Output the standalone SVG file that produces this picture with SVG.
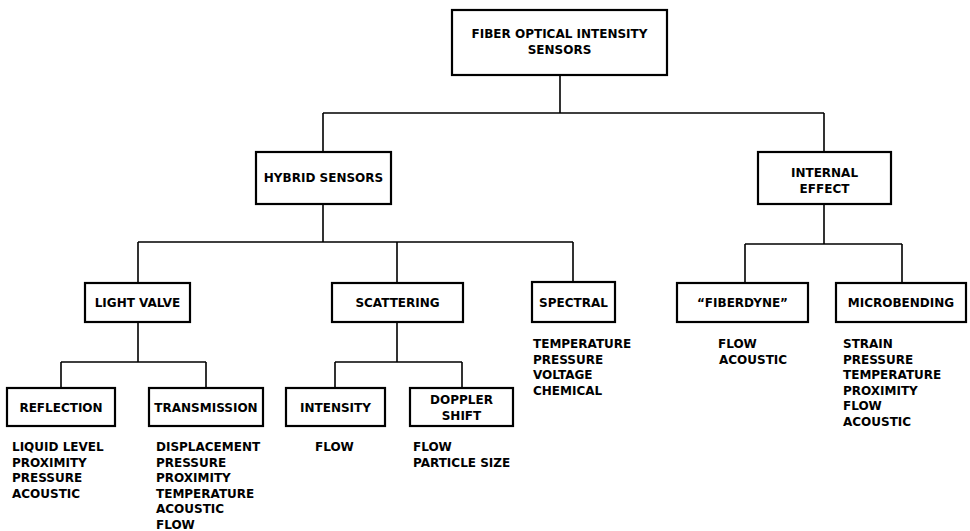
<svg xmlns="http://www.w3.org/2000/svg" width="970" height="531" viewBox="0 0 970 531">
<style>
.box{fill:#fff;stroke:#000;stroke-width:2.2}
.c{fill:none;stroke:#000;stroke-width:1.6}
text{font-family:"DejaVu Sans","Liberation Sans",sans-serif;font-weight:bold;font-size:12px;fill:#000}
.m{text-anchor:middle}
</style>
<rect width="970" height="531" fill="#fff"/>
<g id="connectors">
<path class="c" d="M560 75V113M323 113H824M323 113V152M824 113V152"/>
<path class="c" d="M323 204V242M138 242H573M138 242V283M397 242V283M573 242V282"/>
<path class="c" d="M824 204V244M745 244H902M745 244V283M902 244V283"/>
<path class="c" d="M138 322V362M61 362H206M61 362V388M206 362V388"/>
<path class="c" d="M397 322V362M335 362H462M335 362V388M462 362V388"/>
</g>
<g id="root"><rect class="box" x="452" y="10" width="215" height="65"/><text class="m" x="559.5" y="38">FIBER OPTICAL INTENSITY</text><text class="m" x="559.5" y="54">SENSORS</text></g>
<g id="hybrid"><rect class="box" x="256" y="152" width="135" height="52"/><text class="m" x="323.5" y="182">HYBRID SENSORS</text></g>
<g id="internal"><rect class="box" x="758" y="152" width="133" height="52"/><text class="m" x="824.5" y="177">INTERNAL</text><text class="m" x="824.5" y="193">EFFECT</text></g>
<g id="lightvalve"><rect class="box" x="85" y="283" width="105" height="39"/><text class="m" x="137.5" y="307">LIGHT VALVE</text></g>
<g id="scattering"><rect class="box" x="332" y="283" width="131" height="39"/><text class="m" x="397.5" y="307">SCATTERING</text></g>
<g id="spectral"><rect class="box" x="532" y="282" width="83" height="40"/><text class="m" x="573.5" y="307">SPECTRAL</text>
<text x="533" y="348">TEMPERATURE</text><text x="533" y="363.5">PRESSURE</text><text x="533" y="379">VOLTAGE</text><text x="533" y="394.5">CHEMICAL</text></g>
<g id="fiberdyne"><rect class="box" x="677" y="283" width="131" height="39"/><text class="m" x="742.5" y="307">“FIBERDYNE”</text>
<text x="718" y="348">FLOW</text><text x="719" y="363.5">ACOUSTIC</text></g>
<g id="microbending"><rect class="box" x="836" y="283" width="130" height="39"/><text class="m" x="901" y="307">MICROBENDING</text>
<text x="843" y="348">STRAIN</text><text x="843" y="363.5">PRESSURE</text><text x="843" y="379">TEMPERATURE</text><text x="843" y="394.5">PROXIMITY</text><text x="843" y="410">FLOW</text><text x="843" y="425.5">ACOUSTIC</text></g>
<g id="reflection"><rect class="box" x="7" y="388" width="108" height="38"/><text class="m" x="61" y="412">REFLECTION</text>
<text x="12" y="451">LIQUID LEVEL</text><text x="12" y="466.5">PROXIMITY</text><text x="12" y="482">PRESSURE</text><text x="12" y="497.5">ACOUSTIC</text></g>
<g id="transmission"><rect class="box" x="149" y="388" width="114" height="38"/><text class="m" x="206" y="412">TRANSMISSION</text>
<text x="156" y="451">DISPLACEMENT</text><text x="156" y="466.5">PRESSURE</text><text x="156" y="482">PROXIMITY</text><text x="156" y="497.5">TEMPERATURE</text><text x="156" y="513">ACOUSTIC</text><text x="156" y="528.5">FLOW</text></g>
<g id="intensity"><rect class="box" x="286" y="388" width="99" height="38"/><text class="m" x="335.5" y="412">INTENSITY</text>
<text x="315" y="451">FLOW</text></g>
<g id="doppler"><rect class="box" x="410" y="388" width="103" height="38"/><text class="m" x="461.5" y="404">DOPPLER</text><text class="m" x="461.5" y="420">SHIFT</text>
<text x="413" y="451">FLOW</text><text x="413" y="466.5">PARTICLE SIZE</text></g>
</svg>
